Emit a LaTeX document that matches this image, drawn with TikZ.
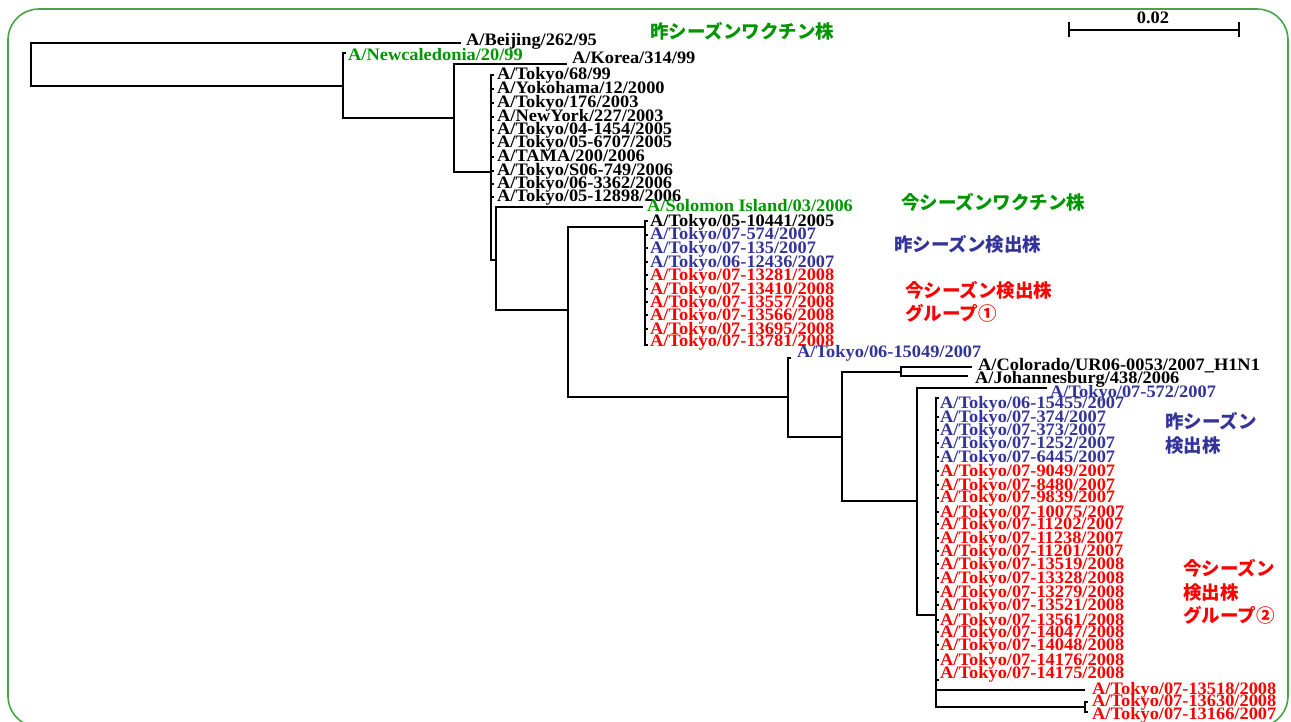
\documentclass[tikz,border=0pt]{standalone}
\usepackage{fontspec}
\setmainfont{Liberation Serif}[FakeStretch=1.05]
\newfontfamily\jpfont{Noto Sans CJK JP}
\definecolor{vgreen}{RGB}{0,150,0}
\definecolor{sblue}{RGB}{51,51,153}
\definecolor{dred}{RGB}{255,0,0}
\definecolor{framegreen}{RGB}{70,165,70}
\tikzset{
  branch/.style={line width=1.2pt, black},
  lab/.style={anchor=west, inner sep=0pt, text height=11.6pt, text depth=0pt,
              font=\fontsize{17.5}{19}\selectfont\bfseries},
  jp/.style={anchor=west, inner sep=0pt, text height=14pt, text depth=0pt,
             font=\jpfont\fontsize{18.5}{22}\selectfont\bfseries},
}
% leaf: name, tip x, tip y, label x, label y, colour, text
\newcommand\leaf[7]{%
  \coordinate (#1) at (#2,#3);
  \node[lab,text=#6] (#1l) at (#4,#5) {#7};}

\begin{document}
\begin{tikzpicture}[x=1pt,y=-1pt]
\useasboundingbox (0,0) rectangle (1291,721);
\draw[framegreen, line width=1.6pt, rounded corners=31pt] (8,9) rectangle (1288,727);

% internal nodes
\coordinate (root) at (31,64);
\coordinate (n1) at (343,86);
\coordinate (n2) at (454,118);
\coordinate (n3) at (491,172);
\coordinate (n4) at (496,260);
\coordinate (n5) at (568,310);
\coordinate (c1) at (645,227);
\coordinate (n6) at (788,397);
\coordinate (n7) at (842,437);
\coordinate (n8) at (901,372);
\coordinate (n9) at (917,501);
\coordinate (n10) at (936,615);
\coordinate (n11) at (1085,707);

% early strains
\leaf{beij}{461}{43}{466}{40}{black}{A/Beijing/262/95}
\leaf{newc}{346}{53}{348}{55}{vgreen}{A/Newcaledonia/20/99}
\leaf{kor}{567}{64}{572}{58}{black}{A/Korea/314/99}

% New Caledonia-like group
\leaf{ta1}{494}{75}{497}{74}{black}{A/Tokyo/68/99}
\leaf{ta2}{494}{89}{497}{88}{black}{A/Yokohama/12/2000}
\leaf{ta3}{494}{103}{497}{102}{black}{A/Tokyo/176/2003}
\leaf{ta4}{494}{117}{497}{116}{black}{A/NewYork/227/2003}
\leaf{ta5}{494}{130}{497}{129}{black}{A/Tokyo/04-1454/2005}
\leaf{ta6}{494}{143}{497}{142}{black}{A/Tokyo/05-6707/2005}
\leaf{ta7}{494}{157}{497}{156}{black}{A/TAMA/200/2006}
\leaf{ta8}{494}{171}{497}{170}{black}{A/Tokyo/S06-749/2006}
\leaf{ta9}{494}{184}{497}{183}{black}{A/Tokyo/06-3362/2006}
\leaf{ta10}{494}{197}{497}{196}{black}{A/Tokyo/05-12898/2006}

\leaf{solo}{643}{207}{647}{206}{vgreen}{A/Solomon Island/03/2006}

% group 1
\leaf{tb1}{648}{221}{650}{221}{black}{A/Tokyo/05-10441/2005}
\leaf{tb2}{648}{235}{650}{234}{sblue}{A/Tokyo/07-574/2007}
\leaf{tb3}{648}{248}{650}{248}{sblue}{A/Tokyo/07-135/2007}
\leaf{tb4}{648}{262}{650}{262}{sblue}{A/Tokyo/06-12436/2007}
\leaf{tb5}{648}{275}{650}{275}{dred}{A/Tokyo/07-13281/2008}
\leaf{tb6}{648}{289}{650}{289}{dred}{A/Tokyo/07-13410/2008}
\leaf{tb7}{648}{302}{650}{302}{dred}{A/Tokyo/07-13557/2008}
\leaf{tb8}{648}{315}{650}{315}{dred}{A/Tokyo/07-13566/2008}
\leaf{tb9}{648}{329}{650}{329}{dred}{A/Tokyo/07-13695/2008}
\leaf{tb10}{648}{345}{650}{341}{dred}{A/Tokyo/07-13781/2008}

\leaf{p15049}{791}{358}{797}{352}{sblue}{A/Tokyo/06-15049/2007}
\leaf{colo}{972}{367}{978}{365}{black}{A/Colorado/UR06-0053/2007\_H1N1}
\leaf{joh}{968}{376}{975}{378}{black}{A/Johannesburg/438/2006}
\leaf{s572}{1047}{388}{1050}{392}{sblue}{A/Tokyo/07-572/2007}

% group 2
\leaf{tc1}{939}{398}{940}{403}{sblue}{A/Tokyo/06-15455/2007}
\leaf{tc2}{939}{417}{940}{417}{sblue}{A/Tokyo/07-374/2007}
\leaf{tc3}{939}{430}{940}{430}{sblue}{A/Tokyo/07-373/2007}
\leaf{tc4}{939}{443}{940}{443}{sblue}{A/Tokyo/07-1252/2007}
\leaf{tc5}{939}{457}{940}{457}{sblue}{A/Tokyo/07-6445/2007}
\leaf{tc6}{939}{471}{940}{471}{dred}{A/Tokyo/07-9049/2007}
\leaf{tc7}{939}{485}{940}{485}{dred}{A/Tokyo/07-8480/2007}
\leaf{tc8}{939}{498}{940}{497}{dred}{A/Tokyo/07-9839/2007}
\leaf{tc9}{939}{512}{940}{512}{dred}{A/Tokyo/07-10075/2007}
\leaf{tc10}{939}{524}{940}{524}{dred}{A/Tokyo/07-11202/2007}
\leaf{tc11}{939}{538}{940}{538}{dred}{A/Tokyo/07-11238/2007}
\leaf{tc12}{939}{551}{940}{551}{dred}{A/Tokyo/07-11201/2007}
\leaf{tc13}{939}{564}{940}{564}{dred}{A/Tokyo/07-13519/2008}
\leaf{tc14}{939}{578}{940}{578}{dred}{A/Tokyo/07-13328/2008}
\leaf{tc15}{939}{592}{940}{592}{dred}{A/Tokyo/07-13279/2008}
\leaf{tc16}{939}{605}{940}{605}{dred}{A/Tokyo/07-13521/2008}
\leaf{tc17}{939}{620}{940}{620}{dred}{A/Tokyo/07-13561/2008}
\leaf{tc18}{939}{632}{940}{632}{dred}{A/Tokyo/07-14047/2008}
\leaf{tc19}{939}{645}{940}{645}{dred}{A/Tokyo/07-14048/2008}
\leaf{tc20}{939}{660}{940}{660}{dred}{A/Tokyo/07-14176/2008}
\leaf{tc21}{939}{680}{940}{673}{dred}{A/Tokyo/07-14175/2008}
\leaf{s13518}{1085}{690}{1092}{689}{dred}{A/Tokyo/07-13518/2008}
\leaf{s13630}{1088}{702}{1092}{701}{dred}{A/Tokyo/07-13630/2008}
\leaf{s13166}{1088}{712}{1092}{714}{dred}{A/Tokyo/07-13166/2007}

% branches
\draw[branch] (root) |- (beij);
\draw[branch] (root) |- (n1);
\draw[branch] (n1) |- (newc);
\draw[branch] (n1) |- (n2);
\draw[branch] (n2) |- (kor);
\draw[branch] (n2) |- (n3);
\foreach \k in {1,...,10} \draw[branch] (n3) |- (ta\k);
\draw[branch] (n3) |- (n4);
\draw[branch] (n4) |- (solo);
\draw[branch] (n4) |- (n5);
\draw[branch] (n5) |- (c1);
\draw[branch] (n5) |- (n6);
\foreach \k in {1,...,10} \draw[branch] (c1) |- (tb\k);
\draw[branch] (n6) |- (p15049);
\draw[branch] (n6) |- (n7);
\draw[branch] (n7) |- (n8);
\draw[branch] (n7) |- (n9);
\draw[branch] (n8) |- (colo);
\draw[branch] (n8) |- (joh);
\draw[branch] (n9) |- (s572);
\draw[branch] (n9) |- (n10);
\foreach \k in {1,...,21} \draw[branch] (n10) |- (tc\k);
\draw[branch] (n10) |- (s13518);
\draw[branch] (n10) |- (n11);
\draw[branch] (n11) |- (s13630);
\draw[branch] (n11) |- (s13166);

% scale bar
\coordinate (sbL) at (1069,30);
\coordinate (sbR) at (1239,30);
\draw[branch] (sbL) -- (sbR);
\draw[branch] ([yshift=8pt]sbL) -- ([yshift=-7pt]sbL);
\draw[branch] ([yshift=8pt]sbR) -- ([yshift=-7pt]sbR);
\node[lab, anchor=center] (sblab) at (1153,18) {0.02};

% group captions
\node[jp, text=vgreen] (cap1) at (650,31) {昨シーズンワクチン株};
\node[jp, text=vgreen] (cap2) at (901,202) {今シーズンワクチン株};
\node[jp, text=sblue] (cap3) at (894,244) {昨シーズン検出株};
\node[jp, text=dred] (cap4) at (905,290) {今シーズン検出株};
\node[jp, text=dred] (cap5) at (905,313) {グループ①};
\node[jp, text=sblue] (cap6) at (1165,421) {昨シーズン};
\node[jp, text=sblue] (cap7) at (1165,445) {検出株};
\node[jp, text=dred] (cap8) at (1183,568) {今シーズン};
\node[jp, text=dred] (cap9) at (1183,592) {検出株};
\node[jp, text=dred] (cap10) at (1183,615) {グループ②};
\end{tikzpicture}
\end{document}
